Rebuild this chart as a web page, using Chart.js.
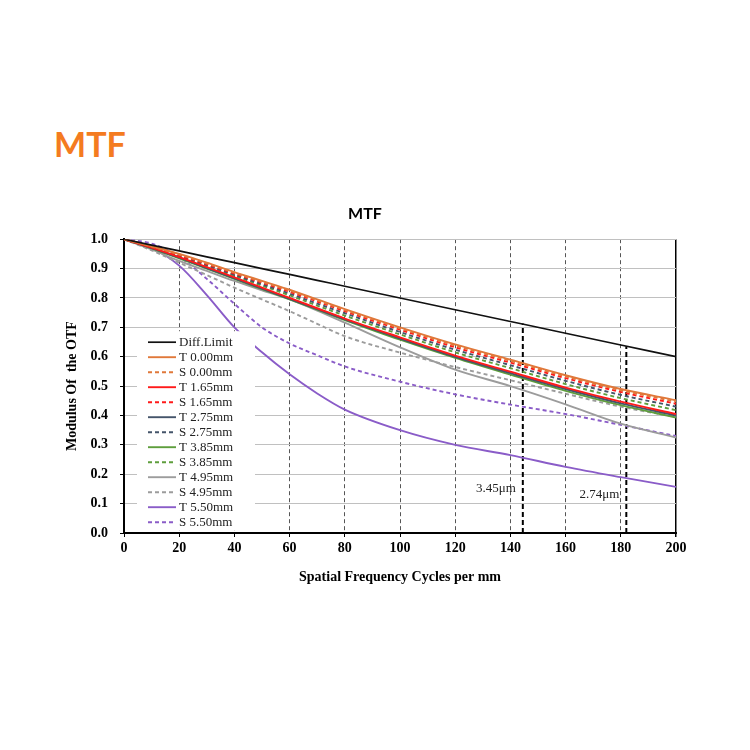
<!DOCTYPE html>
<html>
<head>
<meta charset="utf-8">
<script src="https://cdn.jsdelivr.net/npm/chart.js@4.4.1/dist/chart.umd.min.js"></script>
<style>
  body { margin: 0; background: #fff; }
  #wrap { position: relative; width: 750px; height: 750px; }
  #head { position: absolute; left: 54px; top: 123px; font: bold 34px Lato, "Open Sans", sans-serif; color: #F47B20; }
  canvas { position: absolute; left: 0; top: 0; }
</style>
</head>
<body>
<div id="wrap">
  <div id="head">MTF</div>
  <canvas id="myChart" width="750" height="750"></canvas>
</div>
<script>
// spatial frequency (cycles per mm)
const freq = [0, 10, 20, 30, 40, 50, 60, 70, 80, 100, 120, 140, 160, 180, 200];

const diffLimit = [1, 0.98, 0.96, 0.94, 0.92, 0.90, 0.88, 0.86, 0.84, 0.80, 0.76, 0.72, 0.68, 0.64, 0.60];
const t000 = [1, 0.976, 0.95, 0.92, 0.888, 0.858, 0.828, 0.795, 0.762, 0.70, 0.642, 0.59, 0.537, 0.49, 0.452];
const s000 = [1, 0.975, 0.948, 0.918, 0.886, 0.855, 0.825, 0.792, 0.759, 0.697, 0.638, 0.586, 0.533, 0.486, 0.447];
const t165 = [1, 0.971, 0.939, 0.905, 0.870, 0.835, 0.80, 0.765, 0.73, 0.666, 0.604, 0.549, 0.495, 0.447, 0.405];
const s165 = [1, 0.974, 0.946, 0.915, 0.883, 0.852, 0.821, 0.788, 0.755, 0.692, 0.632, 0.58, 0.527, 0.48, 0.44];
const t275 = [1, 0.970, 0.937, 0.902, 0.867, 0.832, 0.797, 0.762, 0.727, 0.662, 0.60, 0.544, 0.49, 0.441, 0.40];
const s275 = [1, 0.973, 0.944, 0.912, 0.879, 0.847, 0.815, 0.781, 0.748, 0.684, 0.624, 0.571, 0.518, 0.47, 0.43];
const t385 = [1, 0.969, 0.935, 0.90, 0.865, 0.83, 0.795, 0.76, 0.725, 0.658, 0.596, 0.539, 0.484, 0.435, 0.393];
const s385 = [1, 0.972, 0.942, 0.909, 0.875, 0.842, 0.809, 0.774, 0.740, 0.676, 0.615, 0.561, 0.507, 0.459, 0.418];
const t495 = [1, 0.965, 0.926, 0.892, 0.858, 0.826, 0.795, 0.757, 0.716, 0.632, 0.556, 0.50, 0.438, 0.372, 0.325];
const s495 = [1, 0.962, 0.92, 0.878, 0.835, 0.795, 0.755, 0.712, 0.67, 0.614, 0.565, 0.52, 0.474, 0.43, 0.395];
const t550 = [1, 0.97, 0.91, 0.81, 0.70, 0.615, 0.54, 0.475, 0.42, 0.35, 0.30, 0.265, 0.225, 0.19, 0.157];
const s550 = [1, 0.985, 0.94, 0.865, 0.78, 0.70, 0.645, 0.605, 0.567, 0.515, 0.472, 0.437, 0.405, 0.368, 0.33];

const seriesLabels = ['Diff.Limit', 'T 0.00mm', 'S 0.00mm', 'T 1.65mm', 'S 1.65mm', 'T 2.75mm', 'S 2.75mm',
    'T 3.85mm', 'S 3.85mm', 'T 4.95mm', 'S 4.95mm', 'T 5.50mm', 'S 5.50mm'];
const seriesValues = [diffLimit, t000, s000, t165, s165, t275, s275, t385, s385, t495, s495, t550, s550];
const seriesColors = ['#111111', '#E0783A', '#E0783A', '#FF1A1A', '#FF1A1A', '#44546A', '#44546A',
    '#5E9E3C', '#5E9E3C', '#9C9C9C', '#9C9C9C', '#8A5CC8', '#8A5CC8'];

// pixel-size markers
const markerX = [144.5, 182];
const markerTop = [0.713, 0.636];
const markerLabels = ['3.45\u03bcm', '2.74\u03bcm'];
const markerLabelY = [0.15, 0.13];

const serif = '"Liberation Serif", "Times New Roman", serif';

const datasets = seriesLabels.map((name, i) => ({
    label: name,
    data: freq.map((f, j) => ({ x: f, y: seriesValues[i][j] })),
    borderColor: seriesColors[i],
    borderWidth: i === 0 ? 1.7 : 1.9,
    borderDash: name.startsWith('S') ? [4, 3] : [],
    pointRadius: 0,
    cubicInterpolationMode: 'monotone',
    fill: false
}));

markerX.forEach((mx, i) => {
    datasets.push({
        label: 'marker' + i,
        data: [{ x: mx, y: 0 }, { x: mx, y: markerTop[i] }],
        borderColor: '#000',
        borderWidth: 2,
        borderDash: [5, 3],
        pointRadius: 0
    });
});

// legend inside the plot, white box covering the lines
const insideLegend = {
    id: 'insideLegend',
    afterDatasetsDraw(chart) {
        const ctx = chart.ctx;
        const a = chart.chartArea;
        const x0 = a.left + 13, y0 = a.top + 92;
        ctx.save();
        ctx.fillStyle = '#fff';
        ctx.fillRect(x0, y0, 118, a.bottom - 3 - y0);
        ctx.font = '13px ' + serif;
        ctx.textBaseline = 'middle';
        for (let i = 0; i < seriesLabels.length; i++) {
            const ds = chart.data.datasets[i];
            const y = y0 + 11 + i * 15;
            ctx.strokeStyle = ds.borderColor;
            ctx.lineWidth = ds.borderWidth;
            ctx.setLineDash(ds.borderDash);
            ctx.beginPath();
            ctx.moveTo(x0 + 11, y);
            ctx.lineTo(x0 + 39, y);
            ctx.stroke();
            ctx.setLineDash([]);
            ctx.fillStyle = '#222';
            ctx.fillText(ds.label, x0 + 42, y);
        }
        // marker labels
        const xs = chart.scales.x, ys = chart.scales.y;
        ctx.textAlign = 'right';
        markerLabels.forEach((t, i) => {
            ctx.fillText(t, xs.getPixelForValue(markerX[i]) - 7, ys.getPixelForValue(markerLabelY[i]));
        });
        ctx.restore();
    }
};

new Chart(document.getElementById('myChart'), {
    type: 'line',
    data: { datasets },
    options: {
        responsive: false,
        animation: false,
        layout: { padding: { left: 54, right: 74, top: 204, bottom: 157 } },
        plugins: {
            legend: { display: false },
            tooltip: { enabled: false },
            title: {
                display: true,
                text: 'MTF',
                color: '#000',
                font: { family: 'Lato, "Open Sans", sans-serif', size: 16, weight: 'bold' },
                padding: { top: 0, bottom: 16 }
            }
        },
        scales: {
            x: {
                type: 'linear',
                min: 0,
                max: 200,
                afterFit: s => { s.height = 60; },
                ticks: { stepSize: 20, color: '#000', padding: 3, font: { family: serif, size: 14, weight: 'bold' } },
                grid: {
                    color: c => c.tick && c.tick.value === 200 ? '#000' : '#555',
                    lineWidth: c => c.tick && c.tick.value === 200 ? 1.5 : 1,
                    tickLength: 4,
                    tickColor: '#000'
                },
                border: { color: '#000', width: 2, dash: c => c.tick && c.tick.value === 200 ? [] : [4, 3] },
                title: {
                    display: true,
                    text: 'Spatial Frequency Cycles per mm',
                    color: '#000',
                    padding: { top: 7, bottom: 7 },
                    font: { family: serif, size: 14, weight: 'bold' }
                }
            },
            y: {
                min: 0,
                max: 1,
                afterFit: s => { s.width = 70; },
                ticks: {
                    stepSize: 0.1,
                    color: '#000',
                    padding: 12,
                    font: { family: serif, size: 14, weight: 'bold' },
                    callback: v => v.toFixed(1)
                },
                grid: { color: '#C0C0C0', lineWidth: 1, tickLength: 4, tickColor: '#000' },
                border: { color: '#000', width: 2 },
                title: {
                    display: true,
                    text: 'Modulus Of  the OTF',
                    color: '#000',
                    padding: { top: 10, bottom: 10 },
                    font: { family: serif, size: 14, weight: 'bold' }
                }
            }
        }
    },
    plugins: [insideLegend]
});
</script>
</body>
</html>
